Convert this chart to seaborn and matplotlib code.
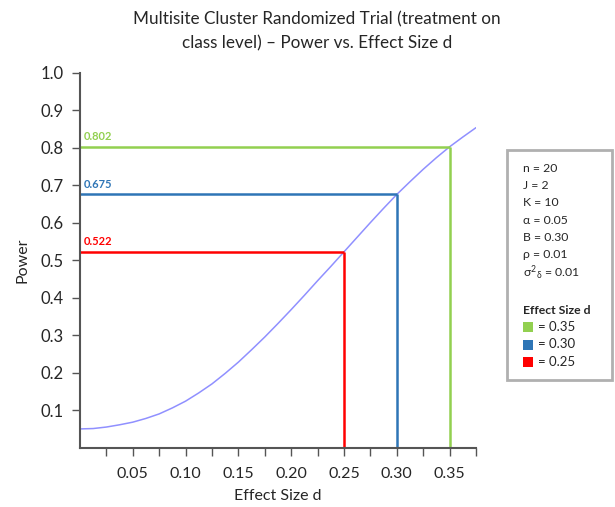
import matplotlib
matplotlib.use("Agg")
import matplotlib.pyplot as plt
from matplotlib.patches import Rectangle
import seaborn as sns
import pandas as pd

# ---- data ----
effect_size = [0.0, 0.0125, 0.025, 0.0375, 0.05, 0.0625, 0.075, 0.0875, 0.10,
               0.1125, 0.125, 0.1375, 0.15, 0.1625, 0.175, 0.1875, 0.20,
               0.2125, 0.225, 0.2375, 0.25, 0.2625, 0.275, 0.2875, 0.30,
               0.3125, 0.325, 0.3375, 0.35, 0.3625, 0.375]
power = [0.050, 0.051, 0.055, 0.061, 0.068, 0.078, 0.090, 0.106, 0.124,
         0.146, 0.170, 0.198, 0.228, 0.261, 0.295, 0.331, 0.368,
         0.406, 0.445, 0.483, 0.522, 0.561, 0.600, 0.638, 0.675,
         0.709, 0.742, 0.773, 0.802, 0.828, 0.853]

marked_d = [0.35, 0.30, 0.25]
marked_power = [0.802, 0.675, 0.522]
marked_labels = ["0.802", "0.675", "0.522"]
marked_colors = ["#92D050", "#2E75B6", "#FF0000"]

params = ["n = 20", "J = 2", "K = 10", "\u03b1 = 0.05", "B = 0.30",
          "\u03c1 = 0.01", r"$\sigma^{2}{}_{\delta}$ = 0.01"]
legend_title = "Effect Size d"
legend_items = ["= 0.35", "= 0.30", "= 0.25"]

x_ticks = [0.05, 0.10, 0.15, 0.20, 0.25, 0.30, 0.35]
y_ticks = [0.1, 0.2, 0.3, 0.4, 0.5, 0.6, 0.7, 0.8, 0.9, 1.0]

title = "Multisite Cluster Randomized Trial (treatment on\nclass level) \u2013 Power vs. Effect Size d"

# ---- style ----
sns.set_style("white")
plt.rcParams["font.family"] = ["Lato", "DejaVu Sans"]
plt.rcParams["mathtext.fontset"] = "custom"
plt.rcParams["mathtext.rm"] = "Lato"
plt.rcParams["mathtext.it"] = "Lato"

fig = plt.figure(figsize=(6.15, 5.07), dpi=100)
ax = fig.add_axes([0.130, 0.117, 0.644, 0.740])

df = pd.DataFrame({"d": effect_size, "power": power})
sns.lineplot(data=df, x="d", y="power", ax=ax, color="#9090FF", linewidth=1.1)

for d, p, lab, c in zip(marked_d, marked_power, marked_labels, marked_colors):
    ax.plot([0, d], [p, p], color=c, linewidth=1.8, solid_capstyle="butt")
    ax.plot([d, d], [0, p], color=c, linewidth=1.8, solid_capstyle="butt")
    ax.text(0.004, p + 0.012, lab, color=c, fontsize=8, fontweight="bold",
            ha="left", va="bottom")

ax.set_xlim(0, 0.375)
ax.set_ylim(0, 1.0)
ax.set_xticks(x_ticks)
ax.set_xticklabels([f"{v:.2f}" for v in x_ticks])
ax.set_xticks([0.025, 0.075, 0.125, 0.175, 0.225, 0.275, 0.325, 0.375], minor=True)
ax.set_yticks(y_ticks)
ax.set_yticklabels([f"{v:.1f}" for v in y_ticks])

for s in ["top", "right"]:
    ax.spines[s].set_visible(False)
for s in ["left", "bottom"]:
    ax.spines[s].set_color("#555555")
    ax.spines[s].set_linewidth(1.5)

ax.tick_params(axis="x", which="major", direction="out", length=6, width=1,
               color="#555555", labelsize=11.5, pad=8, bottom=True)
ax.tick_params(axis="x", which="minor", direction="out", length=6, width=1,
               color="#555555", bottom=True)
ax.tick_params(axis="y", which="major", direction="out", length=6, width=1,
               color="#555555", labelsize=12, pad=6, left=True)

ax.set_xlabel("Effect Size d", fontsize=11.5, labelpad=6)
ax.set_ylabel("Power", fontsize=11.5, labelpad=8)
ax.grid(False)

fig.text(0.515, 0.977, title, ha="center", va="top", fontsize=12.3,
         linespacing=1.55)

# ---- legend box ----
fig.patches.append(Rectangle((507 / 615, 1 - 380 / 507), 105 / 615, 230 / 507,
                             transform=fig.transFigure, facecolor="white",
                             edgecolor="#B0B0B0", linewidth=2))
y = 168
for t in params:
    fig.text(523 / 615, 1 - y / 507, t, fontsize=8.8, va="center", ha="left")
    y += 17.4
fig.text(523 / 615, 1 - 310 / 507, legend_title, fontsize=8.8,
         fontweight="bold", va="center", ha="left")
y = 327
for t, c in zip(legend_items, marked_colors):
    fig.patches.append(Rectangle((523 / 615, 1 - (y + 5) / 507), 10 / 615,
                                 10 / 507, transform=fig.transFigure,
                                 facecolor=c, edgecolor="none"))
    fig.text(538 / 615, 1 - y / 507, t, fontsize=9.5, va="center", ha="left")
    y += 17.5

fig.savefig("out.png", dpi=100)
